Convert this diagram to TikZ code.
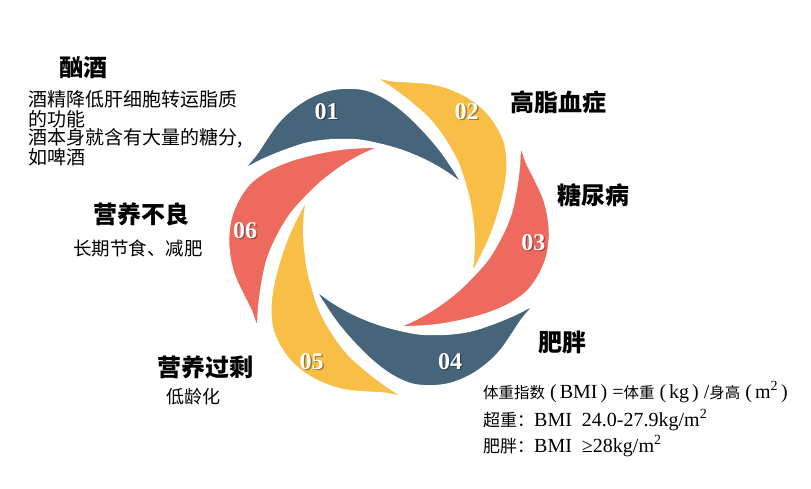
\documentclass[tikz,border=0pt]{standalone}
\usepackage{fontspec}
\setmainfont{Liberation Serif}
\newfontfamily\cjk{Noto Sans CJK SC}
\definecolor{pblue}{RGB}{70,100,122}
\definecolor{pyellow}{RGB}{248,190,70}
\definecolor{pred}{RGB}{238,106,95}
\newcommand\bmizh[1]{{\cjk\fontsize{15.5}{18}\selectfont #1}}
\newcommand\bmizhb[1]{{\cjk\fontsize{17}{18}\selectfont #1}}
\newcommand\pin{\hspace{3pt}}
\tikzset{
  petalfill/.style={draw=white, line width=3, line join=round},
  numtxt/.style={font=\fontsize{24}{24}\selectfont\bfseries, text=white, inner sep=0},
  numshadow/.style={font=\fontsize{24}{24}\selectfont\bfseries, text=black, opacity=0.35, inner sep=0},
  title/.style={font=\cjk\bfseries\fontsize{24}{28}\selectfont, inner sep=0},
  body/.style={font=\cjk\fontsize{19}{20}\selectfont, inner sep=0},
  bmi/.style={font=\fontsize{20}{24}\selectfont, inner sep=0, anchor=west}
}
\begin{document}
\begin{tikzpicture}[x=1pt,y=1pt]
\useasboundingbox (0,0) rectangle (811,-489);
\coordinate (C) at (389,-237);
\foreach \ang/\col in {0/pblue,-60/pyellow,-120/pred,-180/pblue,-240/pyellow,-300/pred}{
  \fill[\col, petalfill, shift={(C)}, rotate=\ang]
    plot[smooth, tension=0.55] coordinates {(-147.3,67) (-134,82) (-124,97) (-112.3,113.7) (-99,127) (-82.3,138.7) (-62.3,147) (-42.3,149.7) (-22.3,147.7) (-2.3,138.7) (17.7,123.7) (37.7,103.7) (54.3,83.7) (67.7,63.7) (76,50.3)}
    -- plot[smooth, tension=0.55] coordinates {(76,50.3) (57.7,63.7) (37.7,75.3) (14.3,85.3) (-9,92) (-32.3,96.3) (-59,96.3) (-82.3,93) (-105.7,85.3) (-125.7,77) (-139,70.3) (-147.3,67)}
    -- cycle;
}
% numbers
\foreach \n/\x/\y in {01/326.7/111.7, 02/466.7/111.7, 03/533.3/242.7, 04/450/361.7, 05/311.7/361.7, 06/245/230.7}{
  \node[numshadow] (s\n) at (\x+1.3,-\y-1.3) {\n};
  \node[numtxt] (n\n) at (\x,-\y) {\n};
}
% titles
\node[title] (t1) at (83,-68) {酗酒};
\node[title, anchor=west] (t2) at (510,-102) {高脂血症};
\node[title, anchor=west] (t3) at (557,-195) {糖尿病};
\node[title, anchor=west] (t4) at (538,-342) {肥胖};
\node[title] (t5) at (205,-367) {营养过剩};
\node[title] (t6) at (141,-214) {营养不良};
% bodies
\node[body, anchor=west] (b11) at (28,-99.5) {酒精降低肝细胞转运脂质};
\node[body, anchor=west] (b12) at (28,-119) {的功能};
\node[body, anchor=west] (b13) at (28,-138) {酒本身就含有大量的糖分,};
\node[body, anchor=west] (b14) at (28,-157) {如啤酒};
\node[body, font=\cjk\fontsize{18.5}{20}\selectfont] (b6) at (138,-248) {长期节食、减肥};
\node[body, font=\cjk\fontsize{18}{20}\selectfont] (b5) at (193.5,-397) {低龄化};
\node[bmi] (m1) at (483,-392) {\bmizh{体重指数} (\pin BMI\pin) =\bmizh{体重} (\pin kg\pin) /\bmizh{身高} (\pin m\textsuperscript{2}\pin)};
\node[bmi] (m2) at (483,-420) {\bmizhb{超重：}BMI\ \ 24.0-27.9kg/m\textsuperscript{2}};
\node[bmi] (m3) at (483,-446) {\bmizhb{肥胖：}BMI\ \ ≥28kg/m\textsuperscript{2}};
\end{tikzpicture}
\end{document}
